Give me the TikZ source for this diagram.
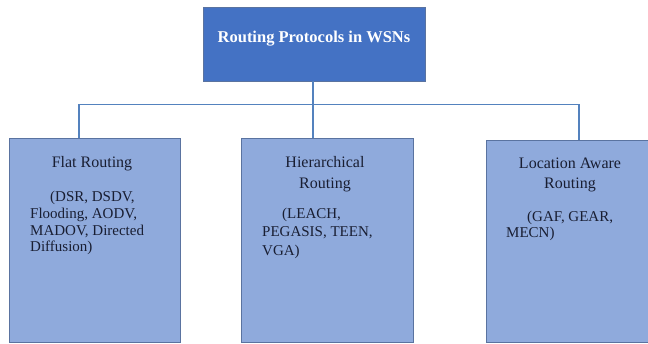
\documentclass[tikz,border=0pt]{standalone}
\usepackage{fontspec}
\setmainfont{Liberation Serif}
\usetikzlibrary{positioning}
\definecolor{topblue}{RGB}{68,114,196}
\definecolor{boxblue}{RGB}{143,170,220}
\definecolor{edgeblue}{RGB}{90,115,160}
\definecolor{wireblue}{RGB}{84,130,190}
\definecolor{inkdark}{RGB}{25,30,50}

\begin{document}
\begin{tikzpicture}[x=1pt,y=1pt,
	root/.style={rectangle,draw=edgeblue,fill=topblue,minimum width=222pt,minimum height=74pt,inner sep=0pt,text=white,font=\fontsize{16.5}{20}\selectfont\bfseries,text height=11.5pt,text depth=14pt},
	group/.style={rectangle,draw=edgeblue,fill=boxblue,inner sep=0pt},
	head/.style={anchor=north,inner sep=0pt,align=center,text=inkdark,font=\fontsize{16}{21}\selectfont},
	list/.style={anchor=north west,inner sep=0pt,align=left,text=inkdark,font=\fontsize{15}{16.7}\selectfont},
	wire/.style={draw=wireblue,line width=1.6pt}]
	\useasboundingbox (0,0) rectangle (648,344);
	\node[root] (wsn) at (314,300) {Routing Protocols in WSNs};
	\node[group,minimum width=171pt,minimum height=204pt] (flat) at (94.5,104) {};
	\node[group,minimum width=172pt,minimum height=204pt] (hier) at (327,104) {};
	\node[group,minimum width=165pt,minimum height=202pt] (loc) at (568.5,103) {};
	\node[head] (flathead) at (92,188) {Flat Routing};
	\node[list] (flatlist) at (30,153) {\hspace*{20pt}(DSR, DSDV,\\Flooding, AODV,\\MADOV, Directed\\Diffusion)};
	\node[head] (hierhead) at (325,187.5) {Hierarchical\\Routing};
	\node[list,font=\fontsize{15}{18.3}\selectfont] (hierlist) at (262,136) {\hspace*{20pt}(LEACH,\\PEGASIS, TEEN,\\VGA)};
	\node[head,font=\fontsize{16}{20}\selectfont] (lochead) at (570,186) {Location Aware\\Routing};
	\node[list] (loclist) at (506,133.5) {\hspace*{21pt}(GAF, GEAR,\\MECN)};
	\coordinate (busl) at (79,239.5);
	\coordinate (busm) at (313,239.5);
	\coordinate (busr) at (579,239.5);
	\draw[wire] (wsn.south -| busm) -- (busm);
	\draw[wire] (busl) -- (busr);
	\draw[wire] (busl) -- (busl |- flat.north);
	\draw[wire] (busm) -- (busm |- hier.north);
	\draw[wire] (busr) -- (busr |- loc.north);
\end{tikzpicture}
\end{document}
